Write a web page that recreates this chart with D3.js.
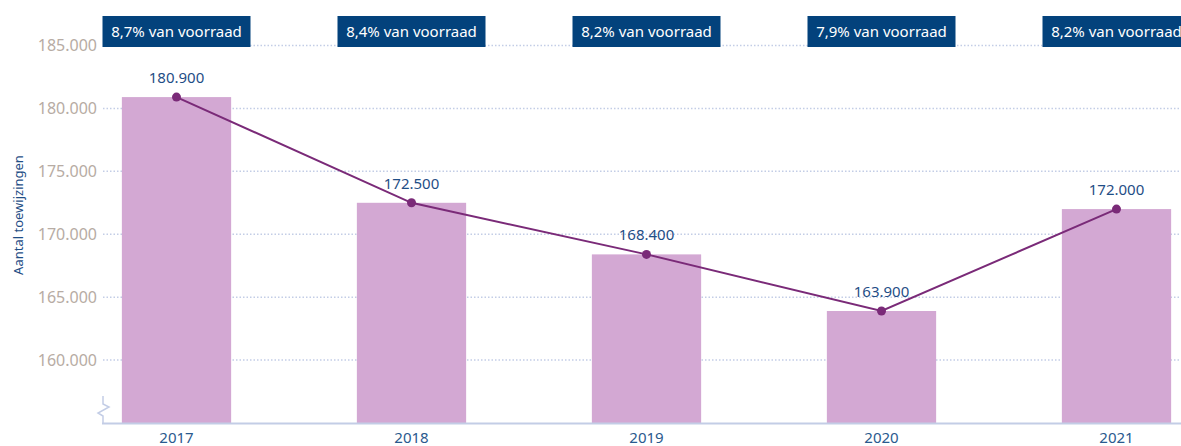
<!DOCTYPE html>
<html>
<head>
<meta charset="utf-8">
<script src="https://cdn.jsdelivr.net/npm/d3@7"></script>
<style>
  body { margin: 0; background: #fff; }
  svg { display: block; font-family: "Noto Sans", sans-serif; }
</style>
</head>
<body>
<svg id="chart"></svg>
<script>
// data
const years = ["2017", "2018", "2019", "2020", "2021"];
const toewijzingen = [180900, 172500, 168400, 163900, 172000];
const valueLabels = ["180.900", "172.500", "168.400", "163.900", "172.000"];
const shareLabels = ["8,7% van voorraad", "8,4% van voorraad", "8,2% van voorraad", "7,9% van voorraad", "8,2% van voorraad"];
const yTicks = [160000, 165000, 170000, 175000, 180000, 185000];

const width = 1181;
const height = 446;
const plotLeft = 103;
const plotRight = 1181;

const svg = d3.select("#chart")
    .attr("width", width)
    .attr("height", height);

// scales
const x = d3.scaleBand()
    .domain(years)
    .range([59, 1234])
    .paddingInner(0.535)
    .paddingOuter(0.2675);

const y = d3.scaleLinear()
    .domain([155000, 185000])
    .range([423, 45.5]);

const fmt = d3.format(",");
const nl = (v) => fmt(v).replace(/,/g, ".");

// gridlines
svg.append("g")
    .selectAll("line")
    .data(yTicks)
    .join("line")
    .attr("x1", plotLeft)
    .attr("x2", plotRight)
    .attr("y1", (d) => y(d))
    .attr("y2", (d) => y(d))
    .attr("stroke", "#c3cde6")
    .attr("stroke-width", 1.5)
    .attr("stroke-dasharray", "1.5,2");

// y tick labels
svg.append("g")
    .selectAll("text")
    .data(yTicks)
    .join("text")
    .attr("x", 97)
    .attr("y", (d) => y(d))
    .attr("dy", "0.35em")
    .attr("text-anchor", "end")
    .attr("fill", "#b7aca4")
    .attr("font-size", 16)
    .text((d) => nl(d));

// y axis title
svg.append("text")
    .attr("transform", "translate(23,215) rotate(-90)")
    .attr("text-anchor", "middle")
    .attr("fill", "#1f4e86")
    .attr("font-size", 13)
    .text("Aantal toewijzingen");

// bars
svg.append("g")
    .selectAll("rect")
    .data(toewijzingen)
    .join("rect")
    .attr("x", (d, i) => x(years[i]))
    .attr("width", x.bandwidth())
    .attr("y", (d) => y(d))
    .attr("height", (d) => y(155000) - y(d))
    .attr("fill", "#d3a8d3");

// bottom axis line + break mark
svg.append("line")
    .attr("x1", plotLeft - 1)
    .attr("x2", plotRight)
    .attr("y1", 423.5)
    .attr("y2", 423.5)
    .attr("stroke", "#c3cde6")
    .attr("stroke-width", 2);

svg.append("path")
    .attr("d", "M103,396 L103,404 L109,407 L98,413 L103,416 L103,423")
    .attr("fill", "none")
    .attr("stroke", "#c3cde6")
    .attr("stroke-width", 1.5);

// x labels
svg.append("g")
    .selectAll("text")
    .data(years)
    .join("text")
    .attr("x", (d) => x(d) + x.bandwidth() / 2)
    .attr("y", 443)
    .attr("text-anchor", "middle")
    .attr("fill", "#2a5a8e")
    .attr("font-size", 15)
    .text((d) => d);

// share boxes
const boxes = svg.append("g")
    .selectAll("g")
    .data(shareLabels)
    .join("g")
    .attr("transform", (d, i) => `translate(${x(years[i]) + x.bandwidth() / 2},0)`);

boxes.append("rect")
    .attr("x", -74)
    .attr("y", 16)
    .attr("width", 148)
    .attr("height", 31)
    .attr("fill", "#03427c");

boxes.append("text")
    .attr("y", 31.5)
    .attr("dy", "0.35em")
    .attr("text-anchor", "middle")
    .attr("fill", "#fff")
    .attr("font-size", 15)
    .text((d) => d);

// line
const line = d3.line()
    .x((d, i) => x(years[i]) + x.bandwidth() / 2)
    .y((d) => y(d));

svg.append("path")
    .datum(toewijzingen)
    .attr("d", line)
    .attr("fill", "none")
    .attr("stroke", "#7a2a78")
    .attr("stroke-width", 2);

svg.append("g")
    .selectAll("circle")
    .data(toewijzingen)
    .join("circle")
    .attr("cx", (d, i) => x(years[i]) + x.bandwidth() / 2)
    .attr("cy", (d) => y(d))
    .attr("r", 4.5)
    .attr("fill", "#7a2a78");

// value labels
svg.append("g")
    .selectAll("text")
    .data(toewijzingen)
    .join("text")
    .attr("x", (d, i) => x(years[i]) + x.bandwidth() / 2)
    .attr("y", (d) => y(d) - 14)
    .attr("text-anchor", "middle")
    .attr("fill", "#1f4e86")
    .attr("font-size", 15)
    .text((d, i) => valueLabels[i]);
</script>
</body>
</html>
